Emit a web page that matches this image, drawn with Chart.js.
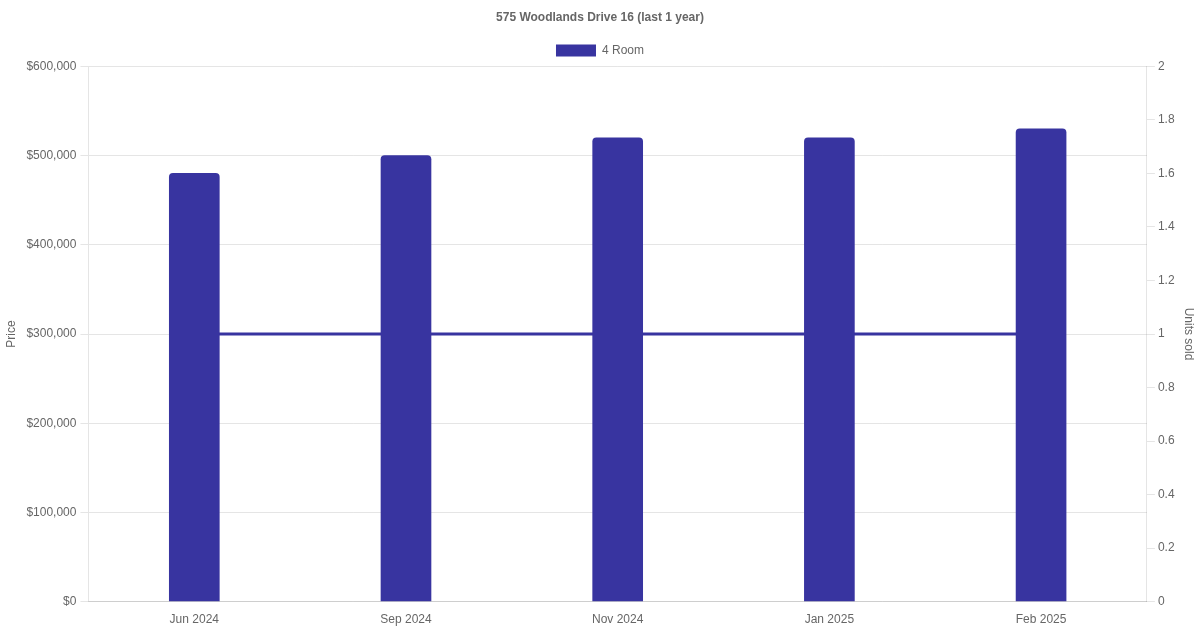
<!DOCTYPE html>
<html>
<head>
<meta charset="utf-8">
<script src="https://cdn.jsdelivr.net/npm/chart.js@4"></script>
<style>
  html, body { margin: 0; padding: 0; background: #fff; }
  #wrap { width: 1200px; height: 630px; }
</style>
</head>
<body>
<div id="wrap"><canvas id="chartCanvas"></canvas></div>
<script>
// --- Data ---
const months = ["Jun 2024", "Sep 2024", "Nov 2024", "Jan 2025", "Feb 2025"];
const prices = [480000, 500000, 520000, 520000, 530000];
const unitsSold = [1, 1, 1, 1, 1];

const barColor = "#3834a0";

Chart.defaults.font.family = "'Liberation Sans', Arial, sans-serif";
Chart.defaults.color = "#666";

new Chart(document.getElementById("chartCanvas"), {
  data: {
    labels: months,
    datasets: [
      {
        type: "bar",
        label: "4 Room",
        data: prices,
        backgroundColor: barColor,
        borderColor: barColor,
        borderWidth: 0,
        borderRadius: { topLeft: 4, topRight: 4 },
        borderSkipped: "bottom",
        barThickness: 50,
        yAxisID: "y",
        order: 1
      },
      {
        type: "line",
        label: "Units sold",
        data: unitsSold,
        borderColor: barColor,
        backgroundColor: barColor,
        borderWidth: 3,
        pointRadius: 0,
        fill: false,
        yAxisID: "y1",
        order: 2
      }
    ]
  },
  options: {
    responsive: true,
    maintainAspectRatio: false,
    animation: false,
    plugins: {
      title: {
        display: true,
        text: "575 Woodlands Drive 16 (last 1 year)",
        font: { size: 12, weight: "bold" },
        padding: { top: 10, bottom: 10 }
      },
      legend: {
        labels: {
          filter: item => item.text === "4 Room",
          boxWidth: 40,
          font: { size: 12 }
        }
      },
      tooltip: { enabled: false }
    },
    scales: {
      x: {
        grid: { display: false },
        ticks: { font: { size: 12 } }
      },
      y: {
        position: "left",
        min: 0,
        max: 600000,
        ticks: {
          stepSize: 100000,
          padding: 4,
          font: { size: 12 },
          callback: v => "$" + v.toLocaleString("en-US")
        },
        title: { display: true, text: "Price", font: { size: 12 } }
      },
      y1: {
        position: "right",
        min: 0,
        max: 2,
        ticks: {
          stepSize: 0.2,
          font: { size: 12 },
          callback: v => String(Math.round(v * 10) / 10)
        },
        grid: { drawOnChartArea: false },
        title: { display: true, text: "Units sold", font: { size: 12 } }
      }
    }
  }
});
</script>
</body>
</html>
